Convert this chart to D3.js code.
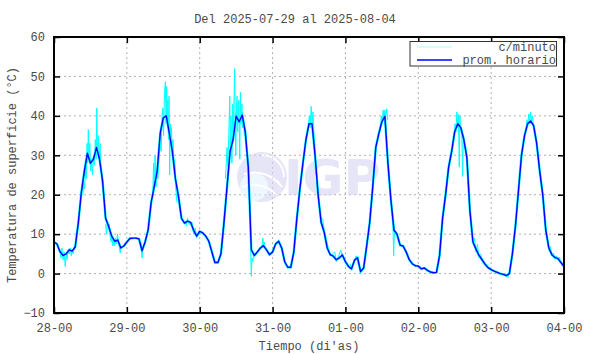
<!DOCTYPE html>
<html>
<head>
<meta charset="utf-8">
<script src="https://cdn.jsdelivr.net/npm/d3@7"></script>
<style>
  body { margin: 0; background: #fff; }
  text { font-family: "Liberation Mono", "DejaVu Sans Mono", monospace; fill: #4a4a4a; }
</style>
</head>
<body>
<div id="chart"></div>
<script>
// hourly average (°C), one value per hour from 28-00 to 04-00
const hourly = [
  // 28
  8.0, 7.5, 5.5, 4.6, 5.0, 6.0, 5.7, 6.8, 12.8, 20.5, 26, 30.5, 28, 29, 32, 29, 23.5, 14, 12, 9.5, 8.2, 8.5, 6.5, 7.0,
  // 29
  8.0, 8.9, 9.0, 9.0, 8.8, 5.8, 8.0, 11, 18, 22, 26, 35.6, 39.5, 40, 35.5, 31, 24, 19.6, 14, 12.8, 13.3, 13, 11, 9.5,
  // 30
  10.7, 10.3, 9.5, 8.2, 5.5, 2.8, 2.8, 5.0, 13, 22, 31, 34, 39.9, 38.5, 40.2, 36, 27, 6, 4.6, 5.5, 6.5, 7.1, 6.0, 4.8,
  // 31
  5.5, 7.5, 8.2, 6.5, 3.0, 1.6, 1.6, 5.5, 14, 21.5, 28, 34, 38, 38, 30, 20, 13, 10.5, 6.5, 4.8, 4.4, 3.5, 4.0, 4.7,
  // 01
  3.0, 1.8, 1.2, 3.4, 4.0, 0.5, 1.4, 7.0, 13, 22, 32, 35.5, 38.5, 39.9, 28, 18.5, 11, 10, 7.2, 7.0, 5.5, 3.6, 2.5, 2.0,
  // 02
  1.9, 1.2, 1.4, 0.8, 0.4, 0.2, 0.3, 4.5, 14, 20, 27, 31, 36, 38, 37, 34, 29.5, 16, 8.0, 6.2, 4.6, 3.5, 2.4, 1.5,
  // 03
  1.0, 0.6, 0.3, 0, -0.2, -0.5, 0, 5, 12, 21, 30, 35, 38, 38.7, 37.5, 33, 26, 20, 11, 6.5, 4.8, 4.1, 3.8, 2.8,
  // 04-00
  1.8
];

// per-minute readings where they stand out from the hourly line: [hour, °C]
const minuteBursts = [
  [[2.0,6.0],[2.3,4.0],[2.6,6.5],[3.0,3.5],[3.3,5.5],[3.7,1.8],[4.0,5.0],[4.3,3.5],[4.6,6.0],[5.0,5.0],[5.3,6.5],[5.7,4.5],[6.0,6.2],[6.3,5.0],[6.7,6.8]],
  [[9.5,20],[9.8,23],[10.1,21.5],[10.4,27],[10.6,24],[10.9,33],[11.1,28],[11.3,36.5],[11.5,30],[11.8,33],[12.1,26],[12.4,29],[12.7,25],[13.0,30],[13.3,27.5],[13.6,34],[13.9,29],[14.1,42],[14.3,31],[14.6,35],[14.9,29],[15.2,33],[15.4,27],[15.7,25],[16.0,22]],
  [[17.0,12.5],[17.3,10],[17.6,13.5],[17.9,11],[18.2,12.5],[18.5,9.5],[18.8,8],[19.1,9.5],[19.4,7],[19.7,8.5],[20.0,7],[20.3,9],[20.6,7.5],[20.9,10],[21.2,8],[21.5,7],[21.8,5.2],[22.1,7],[22.4,6.5]],
  [[28.7,8],[29.0,4.0],[29.3,6.5]],
  [[32.5,19],[32.8,28],[33.0,21],[33.3,30],[33.6,22],[33.9,26],[34.2,24],[34.6,29],[35.0,33],[35.3,31],[35.6,40],[35.9,42],[36.1,35],[36.4,46],[36.7,48.7],[36.9,38],[37.1,47.5],[37.3,40],[37.5,44],[37.7,34],[37.9,45],[38.1,25],[38.3,38],[38.5,33],[38.7,37],[38.9,30],[39.2,34],[39.5,27],[39.8,29],[40.1,22],[40.5,18]],
  [[43.5,12],[44.0,14],[44.5,12.5],[45.5,13],[46.0,10],[46.5,11.5],[47.0,9]],
  [[56.5,24],[57.0,32],[57.3,27],[57.6,36],[57.9,45],[58.1,30],[58.3,40],[58.6,28],[58.9,43],[59.1,34],[59.3,44],[59.5,52],[59.7,37],[59.9,30],[60.1,42],[60.3,45],[60.5,36],[60.7,40],[60.9,44],[61.1,33],[61.2,29],[61.4,46],[61.6,38],[61.9,43],[62.1,37],[62.4,40],[62.7,35],[63.0,36],[63.4,31]],
  [[64.6,12],[64.9,2],[65.0,-0.7],[65.2,4],[65.5,3],[65.8,5]],
  [[68.5,7],[68.8,9],[69.1,6.5],[69.4,8]],
  [[83.8,37],[84.1,40],[84.4,37],[84.7,42.4],[85.0,38],[85.3,41],[85.6,36],[85.9,33],[86.2,25],[86.5,26]],
  [[88.5,14],[89.0,11],[90.5,6],[91.0,4.5],[92.5,5.5],[93.0,3],[94.5,6],[95.0,4]],
  [[97.5,2.5],[98.0,1],[99.5,4.5],[101.0,0.2],[102.0,1]],
  [[107.5,36],[107.8,40],[108.1,38],[108.4,41.5],[108.7,39],[109.0,41.5],[109.3,40],[109.6,41.8],[109.9,39]],
  [[111.6,14],[111.9,4.5],[112.1,10],[112.5,11],[112.8,9.5]],
  [[131.8,34],[132.1,38],[132.4,36],[132.7,41],[133.0,37],[133.2,40.5],[133.5,27],[133.7,40],[134.0,36],[134.3,37],[134.6,24.6],[134.8,34],[135.1,33]],
  [[138.5,9],[139.0,5.5],[139.5,7.5],[140.0,4],[140.5,5],[141.5,2.5],[142.5,1.5],[143.0,2.3]],
  [[148.5,-0.2],[149.5,-1.0],[150.0,0.5]],
  [[155.5,36],[155.8,39],[156.1,37.5],[156.4,40.5],[156.7,38],[157.0,41],[157.3,38.5],[157.6,40],[158.0,37]],
  [[162.5,9.5],[163.0,6],[163.5,6.8],[164.0,4.5],[164.5,5.2],[165.0,3.8],[165.5,4.5],[166.0,3.5],[166.5,4.2],[167.0,2.6]]
];

const xTickLabels = ["28-00", "29-00", "30-00", "31-00", "01-00", "02-00", "03-00", "04-00"];
const yTicks = [-10, 0, 10, 20, 30, 40, 50, 60];

const titleText = "Del 2025-07-29 al 2025-08-04";
const xLabel = "Tiempo (di'as)";
const yLabel = "Temperatura de superficie (°C)";

const W = 590, H = 354;
const margin = {top: 37, right: 26, bottom: 41, left: 54};
const width = W - margin.left - margin.right;
const height = H - margin.top - margin.bottom;

const svg = d3.select("#chart").append("svg")
    .attr("width", W)
    .attr("height", H);

const g = svg.append("g")
    .attr("transform", `translate(${margin.left},${margin.top})`);

const x = d3.scaleLinear().domain([0, 168]).range([0, width]);
const y = d3.scaleLinear().domain([-10, 60]).range([height, 0]);

// grid
g.append("g").selectAll("line.gx")
    .data(d3.range(1, 7))
    .join("line")
    .attr("x1", d => x(d * 24)).attr("x2", d => x(d * 24))
    .attr("y1", 0).attr("y2", height)
    .attr("stroke", "#b0b0b0").attr("stroke-dasharray", "2,3").attr("stroke-width", 1);

g.append("g").selectAll("line.gy")
    .data(yTicks.slice(1, -1))
    .join("line")
    .attr("x1", 0).attr("x2", width)
    .attr("y1", d => y(d)).attr("y2", d => y(d))
    .attr("stroke", "#b0b0b0").attr("stroke-dasharray", "2,3").attr("stroke-width", 1);

// watermark
const wm = g.append("g").attr("opacity", 0.6);
wm.append("circle").attr("cx", 208).attr("cy", 140).attr("r", 25).attr("fill", "#d4d4f2");
wm.append("circle").attr("cx", 200).attr("cy", 150).attr("r", 14).attr("fill", "#e4f2fc");
wm.append("path").attr("d", "M188,150 A30,30 0 0 1 222,158").attr("fill", "none").attr("stroke", "#fff").attr("stroke-width", 2);
wm.append("path").attr("d", "M190,137 A34,34 0 0 1 228,150").attr("fill", "none").attr("stroke", "#fff").attr("stroke-width", 2);
wm.append("path").attr("d", "M208,118 A22,22 0 0 1 230,140").attr("fill", "none").attr("stroke", "#fff").attr("stroke-width", 2);
wm.append("text").attr("x", 230).attr("y", 158)
    .style("font-family", "'DejaVu Sans', sans-serif").style("font-weight", "bold").style("font-size", "50px")
    .style("fill", "#d4d4f2").text("IGP");

const line = d3.line().x(d => x(d[0])).y(d => y(d[1]));
const hourlyPts = hourly.map((v, i) => [i, v]);

// per-minute series (cyan)
g.append("path").datum(hourlyPts).attr("d", line)
    .attr("fill", "none").attr("stroke", "#00ffff").attr("stroke-width", 2.4);
g.selectAll(".burst").data(minuteBursts).join("path")
    .attr("class", "burst").attr("d", line)
    .attr("fill", "none").attr("stroke", "#00ffff").attr("stroke-width", 1);

// hourly average (blue)
g.append("path").datum(hourlyPts).attr("d", line)
    .attr("fill", "none").attr("stroke", "#0000ff").attr("stroke-width", 1.4)
    .attr("stroke-linejoin", "round");

// axes: ticks inward on all sides
const xAxis = d3.axisBottom(x).tickValues(d3.range(0, 169, 24))
    .tickFormat((d, i) => xTickLabels[i]).tickSizeInner(-6).tickSizeOuter(0).tickPadding(10);
const yAxis = d3.axisLeft(y).tickValues(yTicks).tickSizeInner(-6).tickSizeOuter(0).tickPadding(9);

g.append("g").attr("transform", `translate(0,${height})`).call(xAxis);
g.append("g").call(yAxis);
g.append("g").call(d3.axisTop(x).tickValues(d3.range(0, 169, 24)).tickFormat("").tickSizeInner(-6).tickSizeOuter(0));
g.append("g").attr("transform", `translate(${width},0)`)
    .call(d3.axisRight(y).tickValues(yTicks).tickFormat("").tickSizeInner(-6).tickSizeOuter(0));

g.selectAll(".domain").remove();
g.selectAll(".tick line").attr("stroke", "#000").attr("stroke-width", 1.5);
g.selectAll(".tick text").style("font-size", "12px").style("font-family", "'Liberation Mono', monospace").attr("fill", "#4a4a4a");

g.append("rect").attr("width", width).attr("height", height)
    .attr("fill", "none").attr("stroke", "#000").attr("stroke-width", 2);

// title and labels
svg.append("text").attr("x", 295).attr("y", 23).attr("text-anchor", "middle")
    .style("font-size", "12px").text(titleText);
svg.append("text").attr("x", 309).attr("y", 350).attr("text-anchor", "middle")
    .style("font-size", "12px").text(xLabel);
svg.append("text").attr("transform", `translate(16,${margin.top + height / 2}) rotate(-90)`)
    .attr("text-anchor", "middle").style("font-size", "12px").text(yLabel);

// legend
const lg = svg.append("g");
lg.append("rect").attr("x", 410).attr("y", 41.5).attr("width", 146.5).attr("height", 24.5)
    .attr("fill", "#fff").attr("stroke", "#333").attr("stroke-width", 1);
const legendItems = [
  {label: "c/minuto", color: "#a8ffff", w: 1},
  {label: "prom. horario", color: "#0000ff", w: 1.5}
];
legendItems.forEach((d, i) => {
  const yy = 47 + i * 13;
  lg.append("line").attr("x1", 417).attr("x2", 452).attr("y1", yy).attr("y2", yy)
      .attr("stroke", d.color).attr("stroke-width", d.w);
  lg.append("text").attr("x", 556).attr("y", yy + 4).attr("text-anchor", "end")
      .style("font-size", "12px").text(d.label);
});
</script>
</body>
</html>
